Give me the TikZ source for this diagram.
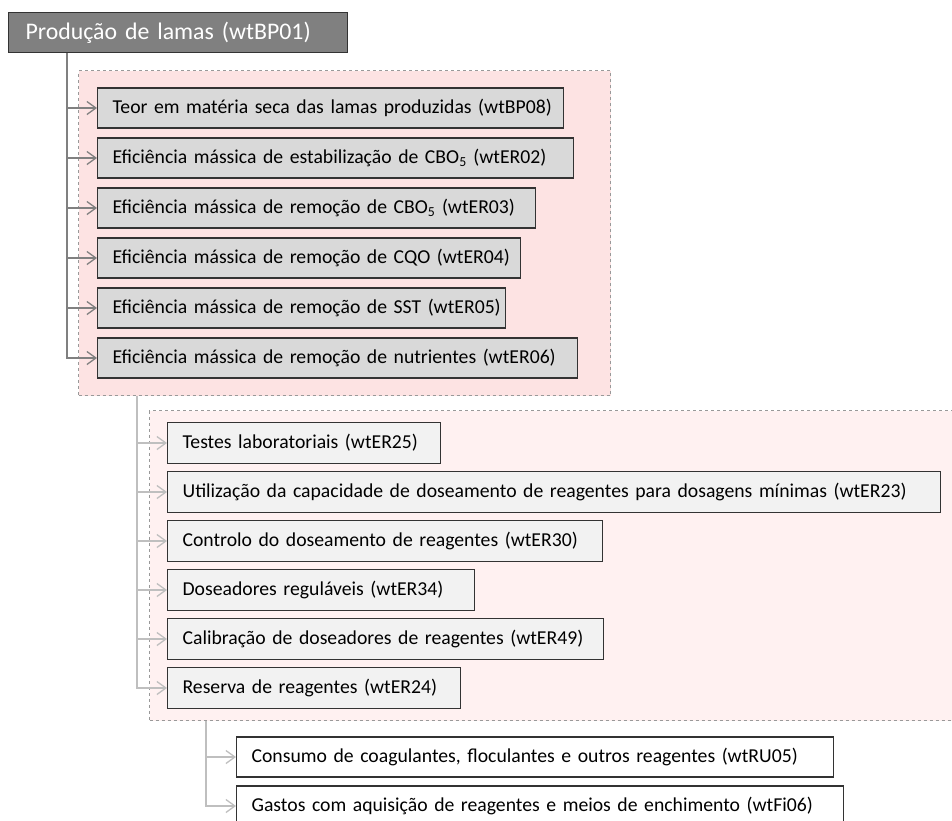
\documentclass[tikz,border=0pt]{standalone}
\usepackage{fontspec}
\setmainfont{Carlito}
\usetikzlibrary{arrows.meta}
\newcommand{\headcolor}{black!50}
\newcommand{\trunkdark}{black!50}
\newcommand{\trunklight}{black!25}
\definecolor{pinkone}{HTML}{FDE3E3}
\definecolor{pinktwo}{HTML}{FFF1F1}
\tikzset{
  rowbox/.style={draw=black!80, line width=1.2pt, anchor=west, minimum height=40pt,
    inner xsep=15pt, align=left, font=\fontsize{19.7}{24}\selectfont,
    execute at begin node=\hbox\bgroup, execute at end node=\egroup},
  lvlone/.style={rowbox, fill=black!15},
  lvltwo/.style={rowbox, fill=black!5, minimum height=41pt},
  lvlthree/.style={rowbox, fill=white},
  group/.style={draw=black!40, dashed, line width=1pt, anchor=north west, inner sep=0pt},
  branch/.style={line width=1.3pt, -{Straight Barb[length=9pt, width=13pt]}},
}

\begin{document}
\begin{tikzpicture}[x=1pt, y=-1pt]
\useasboundingbox (0,0) rectangle (952,820);

% header
\node[rowbox, fill=\headcolor, anchor=north west, inner xsep=17pt, text width=305pt,
  text=white, font=\fontsize{23.8}{28}\selectfont] (head) at (8,12) {Produção de lamas (wtBP01)};

% groups
\node[group, fill=pinkone, minimum width=532pt, minimum height=325pt] (grpA) at (78,70) {};
\node[group, fill=pinktwo, minimum width=820pt, minimum height=310pt] (grpB) at (149,410) {};

% first level
\node[lvlone, text width=436pt] (bp08) at (97,108) {Teor em matéria seca das lamas produzidas (wtBP08)};
\node[lvlone, text width=446pt] (er02) at (97,158) {Eficiência mássica de estabilização de CBO\textsubscript{5} (wtER02)};
\node[lvlone, text width=408pt] (er03) at (97,208) {Eficiência mássica de remoção de CBO\textsubscript{5} (wtER03)};
\node[lvlone, text width=393pt] (er04) at (97,258) {Eficiência mássica de remoção de CQO (wtER04)};
\node[lvlone, text width=378pt] (er05) at (97,308) {Eficiência mássica de remoção de SST (wtER05)};
\node[lvlone, text width=450pt] (er06) at (97,358) {Eficiência mássica de remoção de nutrientes (wtER06)};

% second level
\node[lvltwo, text width=243pt] (er25) at (167,443) {Testes laboratoriais (wtER25)};
\node[lvltwo, text width=743pt] (er23) at (167,492) {Utilização da capacidade de doseamento de reagentes para dosagens mínimas (wtER23)};
\node[lvltwo, text width=405pt] (er30) at (167,541) {Controlo do doseamento de reagentes (wtER30)};
\node[lvltwo, text width=277pt] (er34) at (167,590) {Doseadores reguláveis (wtER34)};
\node[lvltwo, text width=406pt] (er49) at (167,639) {Calibração de doseadores de reagentes (wtER49)};
\node[lvltwo, text width=263pt] (er24) at (167,688) {Reserva de reagentes (wtER24)};

% third level
\node[lvlthree, text width=567pt] (ru05) at (236,757) {Consumo de coagulantes, floculantes e outros reagentes (wtRU05)};
\node[lvlthree, text width=577pt] (fi06) at (236,806) {Gastos com aquisição de reagentes e meios de enchimento (wtFi06)};

% trunks
\coordinate (tA) at ([xshift=59pt]head.south west);
\coordinate (tB) at ([xshift=59pt]grpA.south west);
\coordinate (tC) at ([xshift=57pt]grpB.south west);

\foreach \n in {bp08,er02,er03,er04,er05,er06}
  \draw[branch, \trunkdark] (tA) |- (\n.west);
\foreach \n in {er25,er23,er30,er34,er49,er24}
  \draw[branch, \trunklight] (tB) |- (\n.west);
\foreach \n in {ru05,fi06}
  \draw[branch, \trunklight] (tC) |- (\n.west);

\end{tikzpicture}
\end{document}
